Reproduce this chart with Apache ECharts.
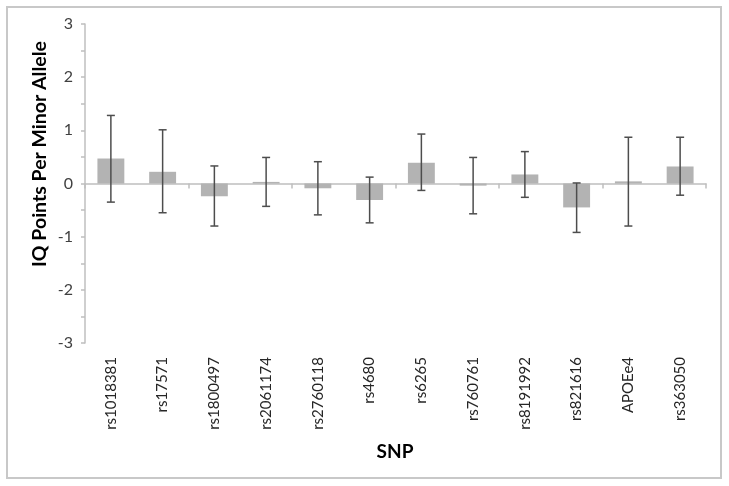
<!DOCTYPE html>
<html>
<head>
<meta charset="utf-8">
<script src="https://cdn.jsdelivr.net/npm/echarts@6/dist/echarts.min.js"></script>
<style>html,body{margin:0;padding:0;background:#fff}#c{width:729px;height:486px}</style>
</head>
<body>
<div id="c"></div>
<script>
var categories = ['rs1018381','rs17571','rs1800497','rs2061174','rs2760118','rs4680','rs6265','rs760761','rs8191992','rs821616','APOEe4','rs363050'];
var means = [0.47, 0.22, -0.24, 0.03, -0.09, -0.31, 0.39, -0.04, 0.17, -0.45, 0.04, 0.32];
var upper = [1.28, 1.01, 0.33, 0.49, 0.41, 0.12, 0.93, 0.49, 0.60, 0.01, 0.87, 0.87];
var lower = [-0.35, -0.55, -0.80, -0.43, -0.59, -0.74, -0.13, -0.57, -0.26, -0.92, -0.80, -0.22];
var yTicks = [-3, -2, -1, 0, 1, 2, 3];

var FONT = 'Lato, "Open Sans", sans-serif';
var chart = echarts.init(document.getElementById('c'), null, {renderer: 'canvas'});
var errData = categories.map(function (c, i) { return [i, lower[i], upper[i]]; });

chart.setOption({
  animation: false,
  backgroundColor: '#fff',
  grid: {left: 85, right: 23, top: 24, bottom: 143, containLabel: false},
  xAxis: [{
    type: 'category', data: categories, position: 'bottom',
    axisLine: {onZero: true, lineStyle: {color: '#bfbfbf', width: 1.5}},
    axisTick: {show: true, alignWithLabel: false, length: 5, lineStyle: {color: '#bfbfbf', width: 1.5}},
    axisLabel: {show: false}, splitLine: {show: false}
  }, {
    type: 'category', data: categories, position: 'bottom',
    axisLine: {show: false, onZero: false}, axisTick: {show: false},
    axisLabel: {show: true, rotate: 90, margin: 14, color: '#262626', fontSize: 15, fontFamily: FONT, interval: 0},
    splitLine: {show: false}
  }],
  yAxis: {
    type: 'value', min: -3, max: 3, interval: 0.5,
    axisLine: {show: true, lineStyle: {color: '#bfbfbf', width: 1.5}},
    axisTick: {show: true, length: 4, lineStyle: {color: '#bfbfbf', width: 1.5}},
    splitLine: {show: false},
    axisLabel: {
      color: '#404040', fontSize: 16, fontFamily: FONT, margin: 12,
      formatter: function (v) { return yTicks.indexOf(v) >= 0 ? String(v) : ''; }
    }
  },
  series: [{
    type: 'bar', data: means, xAxisIndex: 0,
    barCategoryGap: '48%',
    itemStyle: {color: '#b3b3b3'}
  }, {
    type: 'custom', xAxisIndex: 0, data: errData, z: 10,
    renderItem: function (params, api) {
      var x = api.value(0);
      var lo = api.coord([x, api.value(1)]);
      var hi = api.coord([x, api.value(2)]);
      var cap = 4;
      var style = {stroke: '#4d4d4d', lineWidth: 1.5, fill: null};
      return {type: 'group', children: [
        {type: 'line', shape: {x1: hi[0], y1: hi[1], x2: lo[0], y2: lo[1]}, style: style},
        {type: 'line', shape: {x1: hi[0] - cap, y1: hi[1], x2: hi[0] + cap, y2: hi[1]}, style: style},
        {type: 'line', shape: {x1: lo[0] - cap, y1: lo[1], x2: lo[0] + cap, y2: lo[1]}, style: style}
      ]};
    }
  }],
  graphic: [{
    type: 'rect', shape: {x: 7, y: 7, width: 714, height: 471},
    style: {fill: null, stroke: '#c8c8c8', lineWidth: 2}, silent: true
  }, {
    type: 'text', x: 40, y: 154, rotation: Math.PI / 2,
    style: {text: 'IQ Points Per Minor Allele', fill: '#000', font: 'bold 19.5px ' + FONT, textAlign: 'center', textVerticalAlign: 'middle'}
  }, {
    type: 'text', x: 395, y: 452,
    style: {text: 'SNP', fill: '#000', font: 'bold 19px ' + FONT, textAlign: 'center', textVerticalAlign: 'middle'}
  }]
});
</script>
</body>
</html>
